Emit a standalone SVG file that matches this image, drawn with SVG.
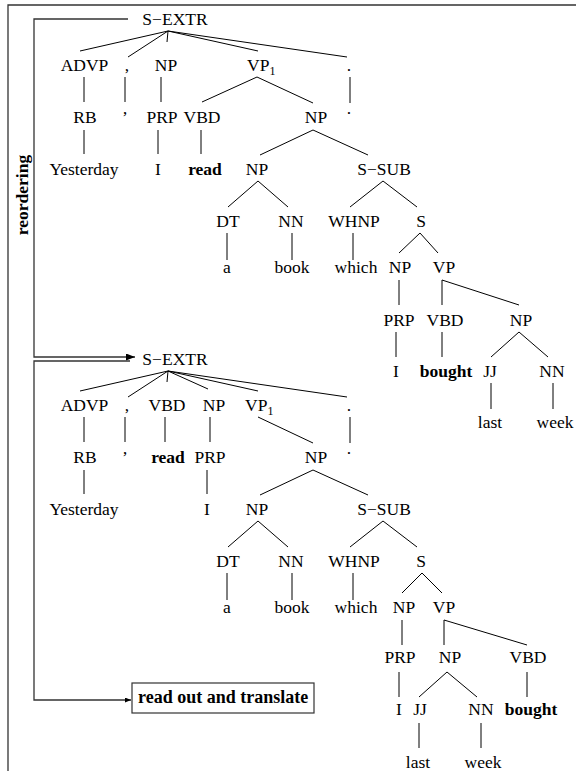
<svg xmlns="http://www.w3.org/2000/svg" width="576" height="771" viewBox="0 0 576 771">
<style>
text{font-family:"Liberation Serif","Times New Roman",serif;font-size:17.5px;fill:#000;text-anchor:middle}
.b{font-weight:bold}
.s{text-anchor:start}
.sub{font-size:12px}
.e line,.e path{stroke:#000;stroke-width:1;fill:none}
.br{stroke:#333;stroke-width:1.3;fill:none}
</style>
<defs>
<marker id="ah" markerUnits="userSpaceOnUse" markerWidth="9" markerHeight="7" refX="9" refY="3.5" orient="auto"><path d="M0,0 L9,3.5 L0,7 z" fill="#000"/></marker>
<marker id="ah2" markerUnits="userSpaceOnUse" markerWidth="6" markerHeight="5" refX="6" refY="2.5" orient="auto"><path d="M0,0 L6,2.5 L0,5 z" fill="#000"/></marker>
</defs>
<rect width="576" height="771" fill="#fff"/>
<g id="frame">
<path class="br" d="M8,771 V5 H576"/>
</g>
<g id="label-reordering"><text class="b" transform="translate(28,195) rotate(-90)">reordering</text></g>
<g id="brackets">
<path class="br" d="M128,19 H34 V357 H135" marker-end="url(#ah)"/>
<path class="br" d="M130,361 H34 V700 H131" marker-end="url(#ah2)"/>
</g>
<g id="connectors" class="e">
<!-- top tree -->
<line x1="168" y1="31" x2="80" y2="51"/>
<line x1="168" y1="31" x2="128" y2="57"/>
<line x1="168" y1="31" x2="167" y2="42"/>
<line x1="168" y1="31" x2="258" y2="51"/>
<line x1="168" y1="31" x2="347" y2="57"/>
<line x1="84" y1="77" x2="84" y2="102"/>
<line x1="125" y1="77" x2="125" y2="102"/>
<line x1="161" y1="77" x2="161" y2="102"/>
<line x1="257" y1="77" x2="202" y2="102"/>
<line x1="257" y1="77" x2="313" y2="103"/>
<line x1="350" y1="77" x2="350" y2="103"/>
<line x1="84" y1="130" x2="84" y2="154"/>
<line x1="158" y1="130" x2="158" y2="154"/>
<line x1="201" y1="130" x2="201" y2="154"/>
<line x1="313" y1="130" x2="260" y2="155"/>
<line x1="313" y1="130" x2="368" y2="155"/>
<line x1="258" y1="181" x2="228" y2="207"/>
<line x1="258" y1="181" x2="288" y2="207"/>
<line x1="383" y1="181" x2="350" y2="207"/>
<line x1="383" y1="181" x2="417" y2="207"/>
<line x1="227" y1="233" x2="227" y2="260"/>
<line x1="292" y1="233" x2="292" y2="260"/>
<line x1="353" y1="233" x2="353" y2="260"/>
<line x1="420" y1="233" x2="399" y2="253"/>
<line x1="420" y1="233" x2="438" y2="253"/>
<line x1="399" y1="280" x2="399" y2="305"/>
<line x1="442" y1="280" x2="442" y2="305"/>
<line x1="442" y1="280" x2="519" y2="305"/>
<line x1="396" y1="332" x2="396" y2="357"/>
<line x1="442" y1="332" x2="442" y2="357"/>
<line x1="519" y1="332" x2="491" y2="357"/>
<line x1="519" y1="332" x2="548" y2="357"/>
<line x1="491" y1="383" x2="491" y2="409"/>
<line x1="553" y1="383" x2="553" y2="409"/>
<!-- bottom tree -->
<line x1="168" y1="371" x2="80" y2="391"/>
<line x1="168" y1="371" x2="128" y2="397"/>
<line x1="168" y1="371" x2="167" y2="382"/>
<line x1="168" y1="371" x2="208" y2="389"/>
<line x1="168" y1="371" x2="258" y2="391"/>
<line x1="168" y1="371" x2="347" y2="397"/>
<line x1="84" y1="417" x2="84" y2="442"/>
<line x1="125" y1="417" x2="125" y2="442"/>
<line x1="165" y1="417" x2="165" y2="442"/>
<line x1="210" y1="417" x2="210" y2="442"/>
<line x1="258" y1="417" x2="313" y2="443"/>
<line x1="350" y1="417" x2="350" y2="443"/>
<line x1="84" y1="470" x2="84" y2="494"/>
<line x1="207" y1="470" x2="207" y2="494"/>
<line x1="313" y1="470" x2="260" y2="495"/>
<line x1="313" y1="470" x2="368" y2="495"/>
<line x1="258" y1="521" x2="228" y2="547"/>
<line x1="258" y1="521" x2="288" y2="547"/>
<line x1="383" y1="521" x2="350" y2="547"/>
<line x1="383" y1="521" x2="417" y2="547"/>
<line x1="227" y1="573" x2="227" y2="600"/>
<line x1="292" y1="573" x2="292" y2="600"/>
<line x1="353" y1="573" x2="353" y2="600"/>
<line x1="422" y1="573" x2="402" y2="593"/>
<line x1="422" y1="573" x2="442" y2="593"/>
<line x1="402" y1="620" x2="402" y2="645"/>
<line x1="444" y1="620" x2="444" y2="645"/>
<line x1="444" y1="620" x2="527" y2="645"/>
<line x1="399" y1="672" x2="399" y2="697"/>
<line x1="447" y1="672" x2="419" y2="697"/>
<line x1="447" y1="672" x2="477" y2="697"/>
<line x1="527" y1="672" x2="527" y2="697"/>
<line x1="419" y1="723" x2="419" y2="748"/>
<line x1="481" y1="723" x2="481" y2="748"/>
</g>
<!-- top tree nodes -->
<g id="t-sextr"><text x="175" y="25">S−EXTR</text></g>
<g id="t-advp"><text x="84.5" y="71">ADVP</text></g>
<g id="t-comma"><text x="127" y="71">,</text></g>
<g id="t-np1"><text x="166" y="71">NP</text></g>
<g id="t-vp1"><text class="s" x="247" y="71">VP<tspan class="sub" dy="4">1</tspan></text></g>
<g id="t-period"><text x="349" y="71">.</text></g>
<g id="t-rb"><text x="85" y="123">RB</text></g>
<g id="t-commaw"><text x="125" y="123">’</text></g>
<g id="t-prp1"><text x="162" y="123">PRP</text></g>
<g id="t-vbd1"><text x="202" y="123">VBD</text></g>
<g id="t-np2"><text x="316" y="123">NP</text></g>
<g id="t-periodw"><text x="349" y="114">.</text></g>
<g id="t-yesterday"><text x="84" y="175">Yesterday</text></g>
<g id="t-i1"><text x="158" y="175">I</text></g>
<g id="t-read"><text class="b" x="205" y="175">read</text></g>
<g id="t-np3"><text x="257" y="175">NP</text></g>
<g id="t-ssub"><text x="384" y="175">S−SUB</text></g>
<g id="t-dt"><text x="228" y="227">DT</text></g>
<g id="t-nn1"><text x="291" y="227">NN</text></g>
<g id="t-whnp"><text x="354" y="227">WHNP</text></g>
<g id="t-s"><text x="421" y="227">S</text></g>
<g id="t-a"><text x="227" y="273">a</text></g>
<g id="t-book"><text x="292" y="273">book</text></g>
<g id="t-which"><text x="356" y="273">which</text></g>
<g id="t-np4"><text x="400" y="273">NP</text></g>
<g id="t-vp"><text x="444" y="273">VP</text></g>
<g id="t-prp2"><text x="399" y="326">PRP</text></g>
<g id="t-vbd2"><text x="445" y="326">VBD</text></g>
<g id="t-np5"><text x="521" y="326">NP</text></g>
<g id="t-i2"><text x="396" y="377">I</text></g>
<g id="t-bought"><text class="b" x="446" y="377">bought</text></g>
<g id="t-jj"><text x="490" y="377">JJ</text></g>
<g id="t-nn2"><text x="552" y="377">NN</text></g>
<g id="t-last"><text x="490" y="428">last</text></g>
<g id="t-week"><text x="555" y="428">week</text></g>
<!-- bottom tree nodes -->
<g id="b-sextr"><text x="175" y="365">S−EXTR</text></g>
<g id="b-advp"><text x="84.5" y="411">ADVP</text></g>
<g id="b-comma"><text x="127" y="411">,</text></g>
<g id="b-vbd1"><text x="167" y="411">VBD</text></g>
<g id="b-np1"><text x="214" y="411">NP</text></g>
<g id="b-vp1"><text class="s" x="245" y="411">VP<tspan class="sub" dy="4">1</tspan></text></g>
<g id="b-period"><text x="349" y="411">.</text></g>
<g id="b-rb"><text x="85" y="463">RB</text></g>
<g id="b-commaw"><text x="125" y="463">’</text></g>
<g id="b-read"><text class="b" x="168" y="463">read</text></g>
<g id="b-prp1"><text x="210" y="463">PRP</text></g>
<g id="b-np2"><text x="316" y="463">NP</text></g>
<g id="b-periodw"><text x="349" y="454">.</text></g>
<g id="b-yesterday"><text x="84" y="515">Yesterday</text></g>
<g id="b-i1"><text x="207" y="515">I</text></g>
<g id="b-np3"><text x="257" y="515">NP</text></g>
<g id="b-ssub"><text x="384" y="515">S−SUB</text></g>
<g id="b-dt"><text x="228" y="567">DT</text></g>
<g id="b-nn1"><text x="291" y="567">NN</text></g>
<g id="b-whnp"><text x="354" y="567">WHNP</text></g>
<g id="b-s"><text x="421" y="567">S</text></g>
<g id="b-a"><text x="227" y="613">a</text></g>
<g id="b-book"><text x="292" y="613">book</text></g>
<g id="b-which"><text x="356" y="613">which</text></g>
<g id="b-np4"><text x="404" y="613">NP</text></g>
<g id="b-vp"><text x="444" y="613">VP</text></g>
<g id="b-prp2"><text x="400" y="663">PRP</text></g>
<g id="b-np5"><text x="450" y="663">NP</text></g>
<g id="b-vbd2"><text x="528" y="663">VBD</text></g>
<g id="b-i2"><text x="399" y="715">I</text></g>
<g id="b-jj"><text x="420" y="715">JJ</text></g>
<g id="b-nn2"><text x="481" y="715">NN</text></g>
<g id="b-bought"><text class="b" x="531" y="715">bought</text></g>
<g id="b-last"><text x="418" y="768">last</text></g>
<g id="b-week"><text x="483" y="768">week</text></g>
<g id="box-readout">
<rect x="132" y="683" width="182" height="30" fill="none" stroke="#333" stroke-width="1.2"/>
<text class="b s" x="138" y="703" style="font-size:18px">read out and translate</text>
</g>
</svg>
